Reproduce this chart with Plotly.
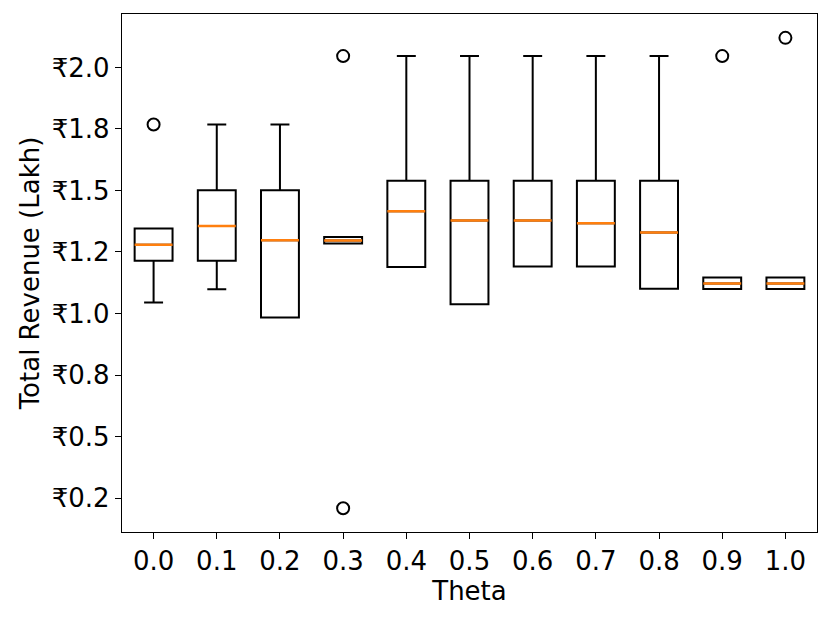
#!/usr/bin/env python3
import plotly.graph_objects as go

# theta values (x categories)
thetas = [0.0, 0.1, 0.2, 0.3, 0.4, 0.5, 0.6, 0.7, 0.8, 0.9, 1.0]

# box statistics, total revenue in lakh
q1 = [1.214, 1.214, 0.984, 1.284, 1.189, 1.038, 1.191, 1.191, 1.100, 1.099, 1.099]
median = [1.279, 1.356, 1.298, 1.297, 1.415, 1.378, 1.378, 1.367, 1.329, 1.122, 1.122]
q3 = [1.345, 1.501, 1.501, 1.311, 1.539, 1.539, 1.539, 1.539, 1.539, 1.146, 1.146]
lower_whisker = [1.045, 1.098, 0.984, 1.284, 1.189, 1.038, 1.191, 1.191, 1.100, 1.099, 1.099]
upper_whisker = [1.345, 1.768, 1.768, 1.311, 2.046, 2.046, 2.046, 2.046, 2.046, 1.146, 1.146]

# fliers
outlier_theta = [0.0, 0.3, 0.3, 0.9, 1.0]
outlier_value = [1.768, 2.046, 0.2085, 2.046, 2.120]

# y ticks (matplotlib style ₹%.1f on a 0.25 grid)
ytick_vals = [0.25, 0.5, 0.75, 1.0, 1.25, 1.5, 1.75, 2.0]
ytick_text = ["₹0.2", "₹0.5", "₹0.8", "₹1.0", "₹1.2", "₹1.5", "₹1.8", "₹2.0"]

FONT = "DejaVu Sans"

fig = go.Figure()

fig.add_trace(go.Box(
    x=thetas, q1=q1, median=median, q3=q3,
    lowerfence=lower_whisker, upperfence=upper_whisker,
    width=0.06, whiskerwidth=0.5,
    line=dict(color="black", width=2),
    fillcolor="rgba(0,0,0,0)",
    boxpoints=False, hoverinfo="skip", showlegend=False,
))

# orange median lines drawn as flat boxes on top
fig.add_trace(go.Box(
    x=thetas, q1=median, median=median, q3=median,
    lowerfence=median, upperfence=median,
    width=0.06, whiskerwidth=0,
    line=dict(color="#ff7f0e", width=2.5),
    fillcolor="rgba(0,0,0,0)",
    boxpoints=False, hoverinfo="skip", showlegend=False,
))

fig.add_trace(go.Scatter(
    x=outlier_theta, y=outlier_value, mode="markers",
    marker=dict(symbol="circle-open", size=12, color="black", line=dict(width=2)),
    hoverinfo="skip", showlegend=False,
))

axis_common = dict(
    showgrid=False, zeroline=False, automargin=False,
    showline=True, linecolor="black", linewidth=1.3, mirror=True,
    ticks="outside", ticklen=6, tickwidth=1.3, tickcolor="black",
    tickfont=dict(family=FONT, size=26, color="black"),
)

# page body adds an 8px offset, so margins are shifted to compensate
fig.update_layout(
    width=831, height=620,
    margin=dict(l=114, r=22, t=6, b=96),
    paper_bgcolor="white", plot_bgcolor="white",
    boxmode="overlay",
    font=dict(family=FONT, size=26, color="black"),
    xaxis=dict(
        range=[-0.05, 1.05], tickvals=thetas, tickformat=".1f",
        title=dict(text="Theta", font=dict(family=FONT, size=26), standoff=4),
        **axis_common,
    ),
    yaxis=dict(
        range=[0.112, 2.217], tickvals=ytick_vals, ticktext=ytick_text,
        title=dict(text="Total Revenue (Lakh)", font=dict(family=FONT, size=26), standoff=4),
        **axis_common,
    ),
)

fig.write_html("out.html")
